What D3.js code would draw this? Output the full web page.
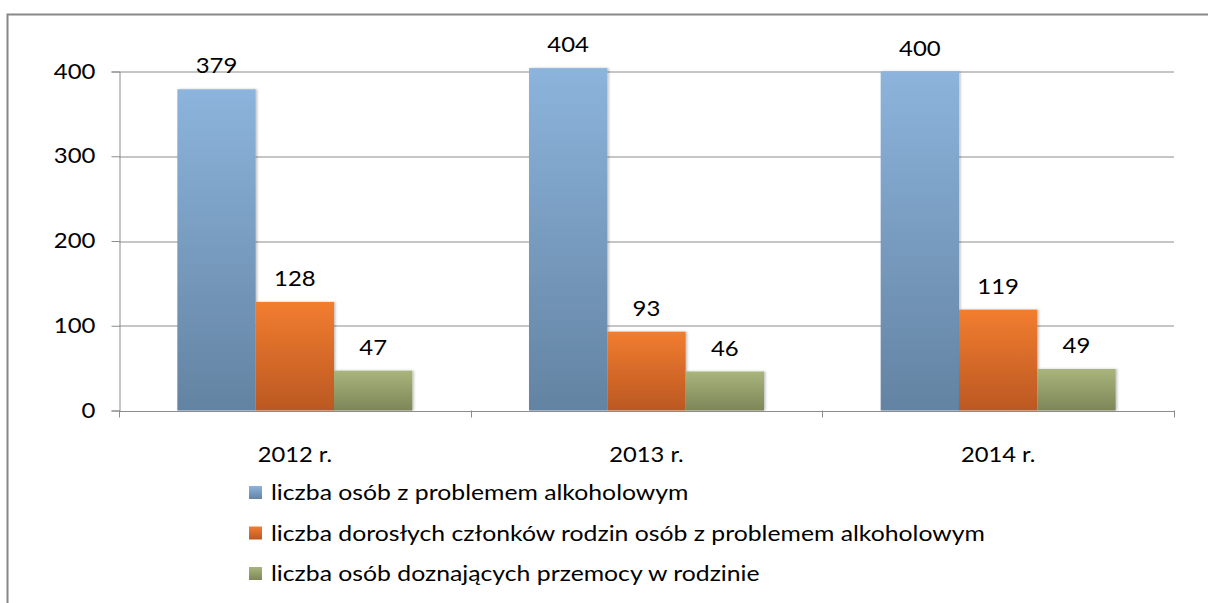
<!DOCTYPE html>
<html>
<head>
<meta charset="utf-8">
<script src="https://cdn.jsdelivr.net/npm/d3@7"></script>
<style>
  body { margin: 0; background: #fff; }
  svg { display: block; font-family: Lato, "Open Sans", sans-serif; }
</style>
</head>
<body>
<svg id="chart" width="1208" height="603"></svg>
<script>
// data
const years = ["2012 r.", "2013 r.", "2014 r."];
const seriesNames = [
  "liczba osób z problemem alkoholowym",
  "liczba dorosłych członków rodzin osób z problemem alkoholowym",
  "liczba osób doznających przemocy w rodzinie"
];
const alkohol = [379, 404, 400];
const rodziny = [128, 93, 119];
const przemoc = [47, 46, 49];
const yTicks = [0, 100, 200, 300, 400];

const seriesValues = [alkohol, rodziny, przemoc];
const seriesColors = [
  ["#8cb4dc", "#6383a2"],
  ["#f27d2f", "#bb5823"],
  ["#a9b57c", "#7c8658"]
];

var margin = { top: 71.5, left: 119, right: 34, bottom: 192.5 },
    width = 1208 - margin.left - margin.right,
    height = 603 - margin.top - margin.bottom;

// the reference font is wider than Lato, stretch text horizontally around its anchor
function stretch(sel, k) {
  sel.attr("transform", function () {
    var x = +d3.select(this).attr("x") || 0;
    return "translate(" + x + ",0) scale(" + k + ",1) translate(" + (-x) + ",0)";
  });
}

var svg = d3.select("#chart");

// gradients for the bars
var defs = svg.append("defs");
seriesColors.forEach(function (c, i) {
  var grad = defs.append("linearGradient")
    .attr("id", "grad" + i)
    .attr("x1", 0).attr("y1", 0).attr("x2", 0).attr("y2", 1);
  grad.append("stop").attr("offset", "0%").attr("stop-color", c[0]);
  grad.append("stop").attr("offset", "100%").attr("stop-color", c[1]);
});
var shadow = defs.append("filter").attr("id", "shadow")
  .attr("x", "-10%").attr("y", "-10%").attr("width", "130%").attr("height", "120%");
shadow.append("feDropShadow")
  .attr("dx", 1.5).attr("dy", 0).attr("stdDeviation", 1.2)
  .attr("flood-color", "#000").attr("flood-opacity", 0.25);

// outer frame (goes past the right and bottom edge)
svg.append("path")
  .attr("d", "M7.5,1000 V14.5 H1300")
  .attr("fill", "none")
  .attr("stroke", "#878787")
  .attr("stroke-width", 2);

var g = svg.append("g")
  .attr("transform", "translate(" + margin.left + "," + margin.top + ")");

var x = d3.scaleBand()
  .domain(years)
  .range([0, width]);

var xInner = d3.scaleBand()
  .domain(d3.range(seriesNames.length))
  .range([0, x.bandwidth()])
  .paddingOuter(0.745);

var y = d3.scaleLinear()
  .domain([0, 400])
  .range([height, 0]);

// gridlines
g.append("g")
  .selectAll("line")
  .data(yTicks.slice(1))
  .enter().append("line")
  .attr("x1", 0).attr("x2", width)
  .attr("y1", d => Math.round(y(d)) + 0.5)
  .attr("y2", d => Math.round(y(d)) + 0.5)
  .attr("stroke", "#8c8c8c");

// y axis
var yAxis = g.append("g")
  .attr("transform", "translate(0.5,0)")
  .call(d3.axisLeft(y).tickValues(yTicks).tickSize(8).tickPadding(16));
yAxis.select(".domain").attr("stroke", "#8c8c8c");
yAxis.selectAll(".tick line").attr("stroke", "#8c8c8c");
yAxis.selectAll(".tick text")
  .attr("font-size", 21)
  .attr("font-family", "Lato, sans-serif")
  .attr("fill", "#000")
  .call(stretch, 1.14);

// bars
seriesValues.forEach(function (vals, s) {
  g.append("g")
    .selectAll("rect")
    .data(vals)
    .enter().append("rect")
    .attr("x", (d, i) => x(years[i]) + xInner(s))
    .attr("y", d => y(d))
    .attr("width", xInner.bandwidth())
    .attr("height", d => height - y(d))
    .attr("fill", "url(#grad" + s + ")")
    .attr("filter", "url(#shadow)");

  g.append("g")
    .selectAll("text")
    .data(vals)
    .enter().append("text")
    .attr("x", (d, i) => x(years[i]) + xInner(s) + xInner.bandwidth() / 2)
    .attr("y", d => y(d) - 16)
    .attr("text-anchor", "middle")
    .attr("font-size", 21)
    .attr("fill", "#000")
    .text(d => d)
    .call(stretch, 1.14);
});

// x axis
var xAxis = g.append("g")
  .attr("transform", "translate(0," + (Math.round(height) + 0.5) + ")")
  .call(d3.axisBottom(x).tickSize(0).tickPadding(36));
xAxis.select(".domain").attr("stroke", "#8c8c8c");
xAxis.selectAll(".tick text")
  .attr("font-size", 21)
  .attr("font-family", "Lato, sans-serif")
  .attr("fill", "#000")
  .call(stretch, 1.13);
// category separators
g.append("g")
  .selectAll("line")
  .data(d3.range(years.length + 1))
  .enter().append("line")
  .attr("x1", i => Math.round(i * x.step()) + 0.5)
  .attr("x2", i => Math.round(i * x.step()) + 0.5)
  .attr("y1", height)
  .attr("y2", height + 7)
  .attr("stroke", "#8c8c8c");

// legend
var legend = svg.append("g")
  .attr("transform", "translate(249,500)");
var item = legend.selectAll("g")
  .data(seriesNames)
  .enter().append("g")
  .attr("transform", (d, i) => "translate(0," + (i * 40.5) + ")");
item.append("rect")
  .attr("x", 0).attr("y", -14)
  .attr("width", 13).attr("height", 13)
  .attr("fill", (d, i) => "url(#grad" + i + ")");
item.append("text")
  .attr("x", 22)
  .attr("y", 0)
  .attr("font-size", 21)
  .attr("fill", "#000")
  .text(d => d)
  .call(stretch, 1.18);
</script>
</body>
</html>
